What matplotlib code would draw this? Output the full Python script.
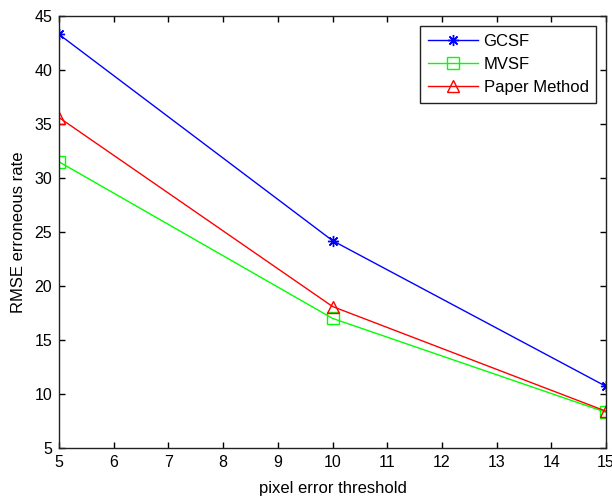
import matplotlib
matplotlib.use("Agg")
import matplotlib.pyplot as plt

plt.rcParams['font.family'] = ['Liberation Sans', 'DejaVu Sans']

# pixel error thresholds and RMSE for each method
thresholds = [5, 10, 15]
gcsf = [43.3, 24.2, 10.7]
mvsf = [31.5, 17.0, 8.3]
paper_method = [35.6, 18.1, 8.4]

fig = plt.figure(figsize=(6.12, 5), dpi=100)
ax = fig.add_axes([0.0964, 0.104, 0.894, 0.864])

ax.plot(thresholds, gcsf, color='#0000ff', lw=1, marker=(8, 2, 0), ms=8,
        mew=1, label='GCSF')
ax.plot(thresholds, mvsf, color='#00ff00', lw=1, marker='s', ms=8,
        mfc='none', mew=1, label='MVSF')
ax.plot(thresholds, paper_method, color='#ff0000', lw=1, marker='^', ms=8,
        mfc='none', mew=1, label='Paper Method')

ax.set_xlim(5, 15)
ax.set_ylim(5, 45)
ax.set_xticks(range(5, 16))
ax.set_yticks(range(5, 46, 5))
ax.tick_params(direction='in', top=True, right=True, labelsize=11.5,
               length=4, width=1, pad=5)
for s in ax.spines.values():
    s.set_linewidth(1)
    s.set_color('#222222')

ax.set_xlabel('pixel error threshold', fontsize=12, labelpad=8)
ax.set_ylabel('RMSE erroneous rate', fontsize=12, labelpad=6)

leg = ax.legend(loc='upper right', fontsize=12, fancybox=False,
                edgecolor='#222222', framealpha=1, borderaxespad=0.6,
                handlelength=3.0, handletextpad=0.35, labelspacing=0.5,
                borderpad=0.45)
leg.get_frame().set_linewidth(1)

fig.savefig('out.png', dpi=100)
